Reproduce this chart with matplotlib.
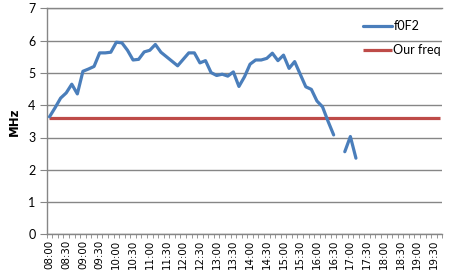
# f0F2 vs our operating frequency, Excel-style line chart
import numpy as np
import matplotlib.pyplot as plt

# 10-minute categories from 08:00 to 19:40
n_cat = 71
tick_labels = ["08:00", "08:30", "09:00", "09:30", "10:00", "10:30",
               "11:00", "11:30", "12:00", "12:30", "13:00", "13:30",
               "14:00", "14:30", "15:00", "15:30", "16:00", "16:30",
               "17:00", "17:30", "18:00", "18:30", "19:00", "19:30"]

# f0F2 readings (MHz), one per 10 min; nan = no reading
f0f2 = [3.64, 3.92, 4.22, 4.38, 4.65, 4.35, 5.05, 5.12, 5.20, 5.62,
        5.62, 5.64, 5.95, 5.93, 5.70, 5.40, 5.42, 5.65, 5.70, 5.88,
        5.64, 5.50, 5.36, 5.22, 5.42, 5.62, 5.62, 5.31, 5.38, 5.01,
        4.92, 4.96, 4.90, 5.03, 4.58, 4.88, 5.27, 5.40, 5.40, 5.45,
        5.61, 5.38, 5.55, 5.14, 5.35, 4.96, 4.57, 4.49, 4.13, 3.95,
        3.50, 3.08, np.nan, 2.56, 3.03, 2.36]
our_freq = 3.6

f0f2 = np.array(f0f2 + [np.nan] * (n_cat - len(f0f2)))
x = np.arange(n_cat)

fig = plt.figure(figsize=(4.51, 2.76), dpi=100)
ax = fig.add_axes([46.7 / 451, 1 - 234.4 / 276, 395.6 / 451, 226.1 / 276])

grid_col = "#868686"
ax.plot(x, f0f2, color="#4A7EBB", lw=2.3, label="f0F2",
        solid_joinstyle="round", solid_capstyle="round", zorder=3)
ax.plot(x, np.full(n_cat, our_freq), color="#BE4B48", lw=2.3,
        label="Our freq", solid_capstyle="butt", zorder=2)

ax.set_xlim(-0.5, n_cat - 0.5)
ax.set_ylim(0, 7)

# y axis
ax.set_yticks(range(0, 8))
ax.yaxis.grid(True, color=grid_col, lw=1)
ax.set_axisbelow(True)
ax.tick_params(axis="y", direction="out", length=5, color=grid_col,
               labelsize=9, pad=3)
for t in ax.get_yticklabels():
    t.set_family("Lato")
ax.set_ylabel("MHz", fontsize=8.5, fontweight="bold", labelpad=5)

# x axis: tick marks between categories, labels every 3rd category
ax.set_xticks(np.arange(-0.5, n_cat, 1), minor=True)
ax.set_xticks(x[::3][:len(tick_labels)])
ax.set_xticklabels(tick_labels, rotation=90, fontsize=7.4)
ax.tick_params(axis="x", which="major", length=0, pad=4)
ax.tick_params(axis="x", which="minor", direction="out", length=3,
               color=grid_col)

ax.spines["right"].set_visible(False)
for s in ["left", "bottom", "top"]:
    ax.spines[s].set_color(grid_col)
    ax.spines[s].set_linewidth(1)

leg = ax.legend(loc="upper left", bbox_to_anchor=(357 / 451, 1 - 14 / 276),
                bbox_transform=fig.transFigure, frameon=False,
                prop={"family": "Lato", "size": 9}, handlelength=2.3,
                handletextpad=0.1, labelspacing=0.95, borderpad=0)

fig.savefig("out.png", dpi=100)
